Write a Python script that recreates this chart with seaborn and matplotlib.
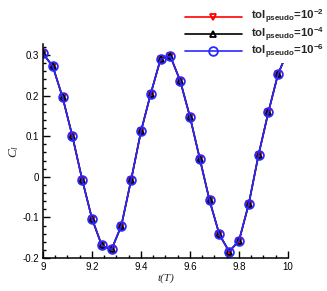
import numpy as np
import pandas as pd
import seaborn as sns
import matplotlib
matplotlib.use("Agg")
import matplotlib.pyplot as plt
from matplotlib.ticker import MultipleLocator

# lift coefficient over one period
t_T = [9.00, 9.04, 9.08, 9.12, 9.16, 9.20, 9.24, 9.28, 9.32, 9.36,
       9.40, 9.44, 9.48, 9.52, 9.56, 9.60, 9.64, 9.68, 9.72, 9.76,
       9.80, 9.84, 9.88, 9.92, 9.96, 10.00]
cl_tol2 = [0.304, 0.272, 0.196, 0.100, -0.007, -0.103, -0.169, -0.179, -0.120, -0.007,
           0.112, 0.205, 0.290, 0.297, 0.237, 0.148, 0.045, -0.058, -0.142, -0.184,
           -0.158, -0.067, 0.054, 0.159, 0.254, 0.310]
cl_tol4 = [0.304, 0.272, 0.196, 0.100, -0.007, -0.103, -0.169, -0.179, -0.120, -0.007,
           0.112, 0.205, 0.290, 0.297, 0.237, 0.148, 0.045, -0.058, -0.142, -0.184,
           -0.158, -0.067, 0.054, 0.159, 0.254, 0.310]
cl_tol6 = [0.304, 0.272, 0.196, 0.100, -0.007, -0.103, -0.169, -0.179, -0.120, -0.007,
           0.112, 0.205, 0.290, 0.297, 0.237, 0.148, 0.045, -0.058, -0.142, -0.184,
           -0.158, -0.067, 0.054, 0.159, 0.254, 0.310]
labels = [r'tol$_{pseudo}$=10$^{-2}$', r'tol$_{pseudo}$=10$^{-4}$', r'tol$_{pseudo}$=10$^{-6}$']

sns.set_theme(style="white")
plt.rcParams['font.family'] = ['Liberation Sans', 'DejaVu Sans']
plt.rcParams['mathtext.default'] = 'regular'
plt.rcParams['mathtext.fontset'] = 'custom'
plt.rcParams['mathtext.it'] = 'Liberation Serif:italic'

fig = plt.figure(figsize=(3.27, 2.91), dpi=100)
ax = fig.add_axes([0.1315, 0.1134, 0.749, 0.735])

series = [(cl_tol2, 'red', 'v', 4.5), (cl_tol4, 'black', '^', 4.5), (cl_tol6, '#2a2aff', 'o', 6.3)]
for (vals, col, mk, ms), lab in zip(series, labels):
    sns.lineplot(x=t_T, y=vals, ax=ax, color=col, marker=mk, markersize=ms,
                 markerfacecolor='none', markeredgecolor=col, markeredgewidth=1.3,
                 linewidth=1.2, label=lab)

ax.set_xlim(9, 10)
ax.set_ylim(-0.2, 0.327)
ax.xaxis.set_minor_locator(MultipleLocator(0.05))
ax.yaxis.set_minor_locator(MultipleLocator(0.02))
ax.set_xticks([9, 9.2, 9.4, 9.6, 9.8, 10])
ax.set_xticklabels(['9', '9.2', '9.4', '9.6', '9.8', '10'])
ax.set_yticks([-0.2, -0.1, 0, 0.1, 0.2, 0.3])
ax.set_yticklabels(['-0.2', '-0.1', '0', '0.1', '0.2', '0.3'])

sns.despine(ax=ax)
for s in ['left', 'bottom']:
    ax.spines[s].set_color('black')
    ax.spines[s].set_linewidth(1.1)
ax.tick_params(which='both', direction='in', left=True, bottom=True,
               colors='black', width=1.0)
ax.tick_params(which='major', length=5, labelsize=7, pad=3)
ax.tick_params(which='minor', length=2.5)

ax.set_xlabel('t(T)', family='Liberation Serif', style='italic', fontsize=8, labelpad=1)
ax.set_ylabel(r'$\mathit{C_l}$', fontsize=9.5, labelpad=1)

leg = ax.legend(loc='upper right', bbox_to_anchor=(0.997, 0.98), bbox_transform=fig.transFigure,
                frameon=True, facecolor='white', edgecolor='none', framealpha=1,
                fancybox=False, handlelength=5.0, handletextpad=0.8, labelspacing=-0.08,
                borderpad=0.2, borderaxespad=0.0,
                prop={'family': 'Liberation Sans', 'weight': 'bold', 'size': 8.2})

fig.savefig('out.png', dpi=100)
